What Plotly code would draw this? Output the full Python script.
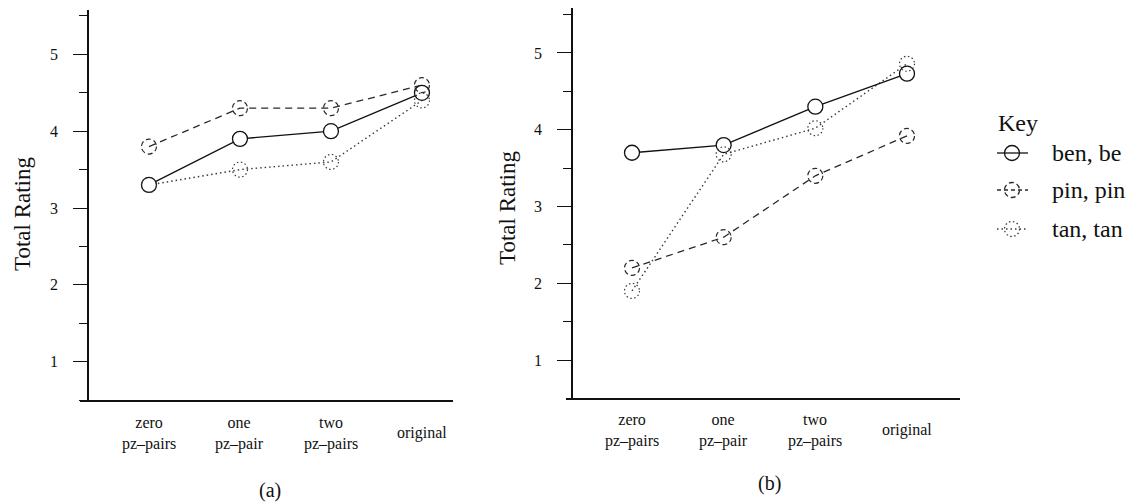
import plotly.graph_objects as go

# ---------------- data ----------------
categories = ["zero<br>pz–pairs", "one<br>pz–pair", "two<br>pz–pairs", "original"]
y_ticks = [1, 2, 3, 4, 5]

# panel (a)
a_ben = [3.3, 3.9, 4.0, 4.5]
a_pin = [3.8, 4.3, 4.3, 4.6]
a_tan = [3.3, 3.5, 3.6, 4.4]
# panel (b)
b_ben = [3.7, 3.8, 4.3, 4.73]
b_pin = [2.2, 2.6, 3.4, 3.92]
b_tan = [1.9, 3.68, 4.02, 4.86]

series_names = ["ben, be", "pin, pin", "tan, tan"]
panel_labels = ["(a)", "(b)"]
y_title = "Total Rating"

# ---------------- styling ----------------
W, H = 1127, 502
FONT = "Liberation Serif, Times New Roman, serif"
INK = "#111111"
styles = {
    "ben": dict(color="#111111", dash="solid", width=1.3),
    "pin": dict(color="#2a2a2a", dash="7px,5px", width=1.3),
    "tan": dict(color="#3a3a3a", dash="1.5px,3px", width=1.4),
}
circle_dash = {"pin": "5px,3px", "tan": "1.5px,2.5px"}
R = 7.5

def px_x(p):
    return p / W

def px_y(p):
    return 1 - p / H

fig = go.Figure()
xs = list(range(len(categories)))

panels = [
    dict(xa="x", ya="y", data={"ben": a_ben, "pin": a_pin, "tan": a_tan},
         xdom=[px_x(80), px_x(453)], xr=[-0.758, 3.341], ypos=px_x(88),
         ydom=[px_y(400), px_y(10)], yr=[0.5, 5.578],
         labmid=433, title_x=22, title_y=214,
         plab=(270, 490)),
    dict(xa="x2", ya="y2", data={"ben": b_ben, "pin": b_pin, "tan": b_tan},
         xdom=[px_x(566), px_x(960)], xr=[-0.72, 3.578], ypos=px_x(572),
         ydom=[px_y(398), px_y(8)], yr=[0.505, 5.586],
         labmid=430, title_x=507, title_y=208,
         plab=(769, 483)),
]

shapes = []
annotations = []
for pi, p in enumerate(panels):
    for key in ["tan", "pin", "ben"]:
        st = styles[key]
        vals = p["data"][key]
        if key == "ben":
            fig.add_trace(go.Scatter(
                x=xs, y=vals, xaxis=p["xa"], yaxis=p["ya"], mode="lines+markers",
                line=dict(color=st["color"], width=st["width"], dash=st["dash"]),
                marker=dict(symbol="circle", size=15, color="white",
                            line=dict(color=st["color"], width=1.3)),
                showlegend=False, hoverinfo="skip"))
        else:
            fig.add_trace(go.Scatter(
                x=xs, y=vals, xaxis=p["xa"], yaxis=p["ya"], mode="lines",
                line=dict(color=st["color"], width=st["width"], dash=st["dash"]),
                showlegend=False, hoverinfo="skip"))
            for xi, v in zip(xs, vals):
                shapes.append(dict(
                    type="circle", xref=p["xa"], yref=p["ya"],
                    xsizemode="pixel", ysizemode="pixel",
                    xanchor=xi, yanchor=v, x0=-R, x1=R, y0=-R, y1=R,
                    line=dict(color=st["color"], width=1.2, dash=circle_dash[key]),
                    layer="above"))
    # category labels
    for xi, lab in zip(xs, categories):
        annotations.append(dict(x=xi, y=px_y(p["labmid"]), xref=p["xa"], yref="paper",
                                text=lab, showarrow=False, xanchor="center",
                                yanchor="middle", align="center",
                                font=dict(family=FONT, size=16, color=INK)))
    # y title
    annotations.append(dict(x=px_x(p["title_x"]), y=px_y(p["title_y"]), xref="paper", yref="paper",
                            text=y_title, textangle=-90, showarrow=False,
                            xanchor="center", yanchor="middle",
                            font=dict(family=FONT, size=23, color=INK)))
    # panel label
    annotations.append(dict(x=px_x(p["plab"][0]), y=px_y(p["plab"][1]), xref="paper", yref="paper",
                            text=panel_labels[pi], showarrow=False, xanchor="center",
                            yanchor="middle", font=dict(family=FONT, size=20, color=INK)))

# ---------------- manual key ----------------
annotations.append(dict(x=px_x(996), y=px_y(123), xref="paper", yref="paper", text="Key",
                        showarrow=False, xanchor="left", yanchor="middle",
                        font=dict(family=FONT, size=24, color=INK)))
rows = [153, 190, 229]
for key, name, ry in zip(["ben", "pin", "tan"], series_names, rows):
    st = styles[key]
    shapes.append(dict(type="line", xref="paper", yref="paper",
                       x0=px_x(997), x1=px_x(1028), y0=px_y(ry), y1=px_y(ry),
                       line=dict(color=st["color"], width=1.3,
                                 dash=("solid" if key == "ben" else ("4px,3px" if key == "pin" else "1.5px,3px")))))
    shapes.append(dict(type="circle", xref="paper", yref="paper",
                       x0=px_x(1012 - R), x1=px_x(1012 + R), y0=px_y(ry + R), y1=px_y(ry - R),
                       fillcolor="rgba(0,0,0,0)",
                       line=dict(color=st["color"], width=1.3,
                                 dash=("solid" if key == "ben" else circle_dash[key]))))
    annotations.append(dict(x=px_x(1050), y=px_y(ry), xref="paper", yref="paper", text=name,
                            showarrow=False, xanchor="left", yanchor="middle",
                            font=dict(family=FONT, size=24, color=INK)))

axis_common_x = dict(showgrid=False, zeroline=False, showline=True, linecolor="#111",
                     linewidth=2, ticks="", showticklabels=False, fixedrange=True)
axis_common_y = dict(showgrid=False, zeroline=False, showline=True, linecolor="#111",
                     linewidth=1.5, ticks="outside", ticklen=14, tickwidth=1.3, tickcolor="#111",
                     tickvals=y_ticks, ticktext=[str(t) for t in y_ticks],
                     tickfont=dict(family=FONT, size=16, color=INK), ticklabelstandoff=12,
                     minor=dict(dtick=0.5, tick0=0.5, ticks="outside", ticklen=8, tickwidth=1.3,
                                tickcolor="#111"),
                     fixedrange=True)

fig.update_layout(
    width=W, height=H, margin=dict(l=0, r=0, t=0, b=0),
    paper_bgcolor="white", plot_bgcolor="white",
    showlegend=False,
    xaxis=dict(domain=panels[0]["xdom"], range=panels[0]["xr"], anchor="y", **axis_common_x),
    yaxis=dict(domain=panels[0]["ydom"], range=panels[0]["yr"], anchor="free",
               position=panels[0]["ypos"], **axis_common_y),
    xaxis2=dict(domain=panels[1]["xdom"], range=panels[1]["xr"], anchor="y2", **axis_common_x),
    yaxis2=dict(domain=panels[1]["ydom"], range=panels[1]["yr"], anchor="free",
                position=panels[1]["ypos"], **axis_common_y),
    shapes=shapes, annotations=annotations,
)

fig.write_html("out.html")
